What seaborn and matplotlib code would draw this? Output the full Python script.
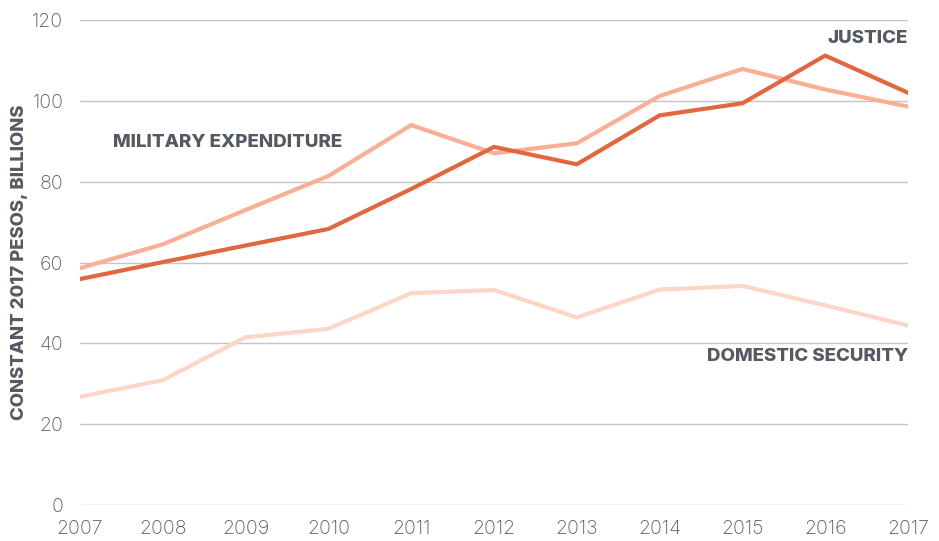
import pandas as pd
import seaborn as sns
import matplotlib.pyplot as plt

years = [2007, 2008, 2009, 2010, 2011, 2012, 2013, 2014, 2015, 2016, 2017]
justice = [55.9, 60.1, 64.2, 68.3, 78.2, 88.6, 84.3, 96.4, 99.4, 111.2, 102.0]
military = [58.6, 64.5, 73.0, 81.4, 94.0, 87.0, 89.5, 101.2, 107.9, 102.8, 98.6]
domestic = [26.8, 30.9, 41.5, 43.6, 52.4, 53.2, 46.4, 53.3, 54.2, 49.4, 44.4]

series_names = ["Justice", "Military expenditure", "Domestic security"]
colors = {"Justice": "#E3673D", "Military expenditure": "#F8AF96", "Domestic security": "#FCD6C6"}

df = pd.DataFrame({
    "year": years * 3,
    "value": justice + military + domestic,
    "series": [s for s in series_names for _ in years],
})

sns.set_style("white")
plt.rcParams["font.family"] = ["Inter", "DejaVu Sans"]

fig = plt.figure(figsize=(9.39, 5.41), dpi=100)
ax = fig.add_axes([80 / 939, 36 / 541, 828 / 939, 485 / 541])

# draw lighter lines first so justice sits on top
sns.lineplot(data=df, x="year", y="value", hue="series", palette=colors,
             hue_order=["Domestic security", "Military expenditure", "Justice"],
             linewidth=3.0, legend=False, ax=ax)

ax.set_xlim(2007, 2017)
ax.set_ylim(0, 120)
ax.set_yticks(range(0, 121, 20))
ax.set_xticks(years)
ax.grid(axis="y", color="#c4c4c4", linewidth=1)
ax.grid(axis="x", visible=False)
for s in ax.spines.values():
    s.set_visible(False)
ax.tick_params(axis="both", length=0, labelsize=14, colors="#555a60")
ax.tick_params(axis="y", pad=12)
ax.tick_params(axis="x", pad=11)
for t in ax.get_xticklabels() + ax.get_yticklabels():
    t.set_fontweight("light")
ax.set_xlabel("")
ax.set_ylabel("CONSTANT 2017 PESOS, BILLIONS", fontsize=13.3, fontweight="heavy",
              color="#555a62", labelpad=3)

lbl = dict(fontsize=13.5, fontweight="heavy", color="#555a62")
ax.text(2007.4, 89.8, "MILITARY EXPENDITURE", ha="left", va="center", **lbl)
ax.text(2017, 115.3, "JUSTICE", ha="right", va="center", **lbl)
ax.text(2017, 36.8, "DOMESTIC SECURITY", ha="right", va="center", **lbl)

plt.savefig("out.png", dpi=100)
